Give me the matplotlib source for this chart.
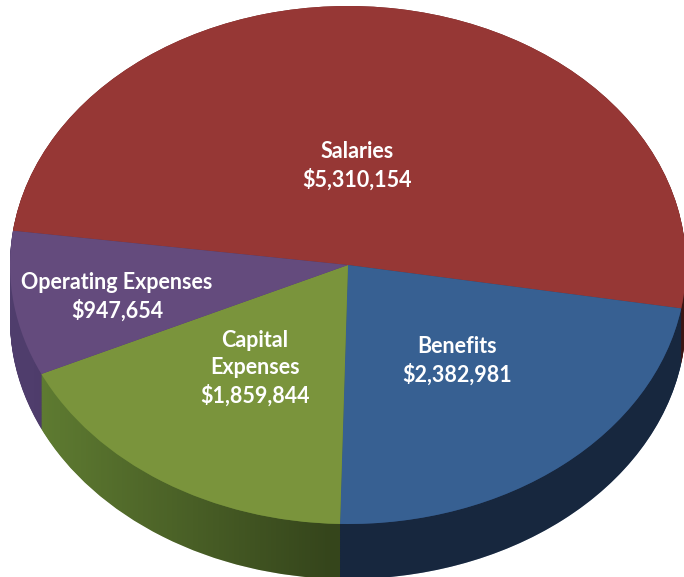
import numpy as np
import matplotlib
matplotlib.use("Agg")
import matplotlib.pyplot as plt
from matplotlib.patches import Polygon

# Budget breakdown
categories = ["Salaries", "Benefits", "Capital\nExpenses", "Operating Expenses"]
amounts = [5310154, 2382981, 1859844, 947654]

top_colors = ["#963735", "#376092", "#7a943c", "#644b7d"]
side_colors = ["#6e2624", "#2a4771", "#607d32", "#4f3d6c"]

# label centres in pixels (x from left, y from top)
label_px = [(357, 166), (457, 361), (255, 368), (117, 297)]

W, H = 684, 577
CX, CY = 348, 265      # pie centre in pixels
RX, RY = 338, 259      # ellipse radii in pixels
DEPTH = 55 / RY        # thickness of the pie, in data units
START = 172.4


def px2data(px, py):
    return (px - CX) / RX, (CY - py) / RY


fig = plt.figure(figsize=(W / 100, H / 100), dpi=100)
ax = fig.add_axes([0, 0, 1, 1])

# side of the pie: stacked copies shifted downwards
for d in np.linspace(DEPTH, 0, 80):
    ax.pie(amounts, colors=side_colors, center=(0, -d), radius=1,
           startangle=START, counterclock=False,
           wedgeprops=dict(linewidth=0, zorder=1))

# darker shading to the right on the side
t = np.linspace(np.pi, 2 * np.pi, 200)
band = np.concatenate([
    np.column_stack([np.cos(t), np.sin(t)]),
    np.column_stack([np.cos(t[::-1]), np.sin(t[::-1]) - DEPTH]),
])
clip = Polygon(band, closed=True, facecolor="none", edgecolor="none")
ax.add_patch(clip)
xs = np.linspace(0, W, 300)
alpha = np.clip((xs - 30) / 300, 0, 1) * 0.45
shade = np.zeros((2, len(xs), 4))
shade[..., 3] = alpha
x0, y0 = px2data(0, H)
x1, y1 = px2data(W, 0)
img = ax.imshow(shade, extent=(x0, x1, y0, y1), aspect="auto", zorder=1.5,
                interpolation="bilinear")
img.set_clip_path(clip)

# top face
ax.pie(amounts, colors=top_colors, center=(0, 0), radius=1,
       startangle=START, counterclock=False,
       wedgeprops=dict(linewidth=0, zorder=2))

for name, val, (px, py) in zip(categories, amounts, label_px):
    x, y = px2data(px, py)
    ax.text(x, y, f"{name}\n${val:,}", ha="center", va="center",
            color="white", fontsize=15.5, fontweight="bold", family="Lato",
            linespacing=1.35, zorder=3)

ax.set_aspect("auto")
ax.set_xlim(x0, x1)
ax.set_ylim(y0, y1)
ax.axis("off")

fig.savefig("out.png", dpi=100, facecolor="white")
